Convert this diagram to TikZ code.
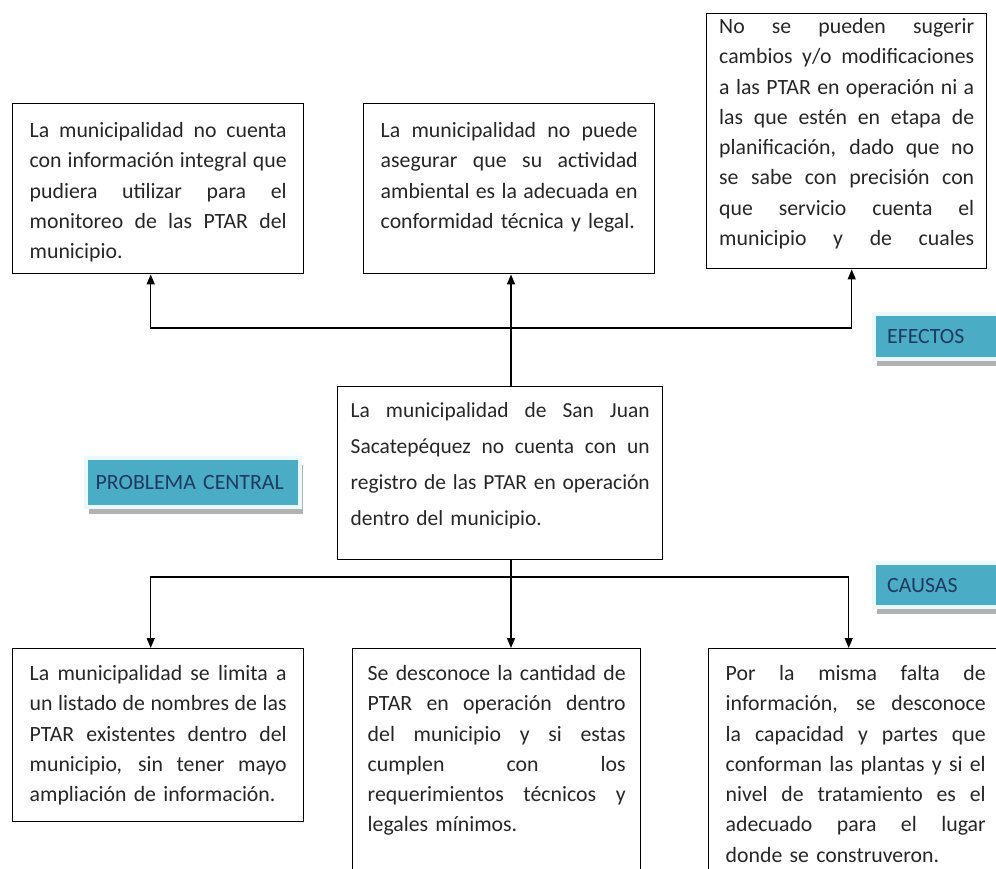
\documentclass[tikz,border=0pt]{standalone}
\usepackage{fontspec}
\setmainfont{Carlito}
\usepackage{tikz}
\usetikzlibrary{positioning, arrows.meta, shadows}

\definecolor{azulEtiqueta}{HTML}{4BACC6}
\definecolor{textoEtiqueta}{HTML}{1F3A5F}

% one justified line of a box
\newcommand{\lj}[1]{\makebox[\linewidth][s]{\spaceskip=0pt\xspaceskip=0pt #1}\\}

\begin{document}
\begin{tikzpicture}[
    caja/.style={draw=black, thick, anchor=north west, align=left, inner ysep=0pt,
        text=black!85, font=\fontsize{12.4pt}{17.2pt}\selectfont},
    etiqueta/.style={fill=azulEtiqueta, draw=cyan!8, line width=2.5pt, anchor=north west,
        align=left, inner xsep=0.26cm, text=textoEtiqueta, font=\fontsize{12.4pt}{14pt}\selectfont,
        drop shadow={shadow xshift=0.05cm, shadow yshift=-0.14cm, fill=gray!60, opacity=1}},
    linea/.style={thick},
    flecha/.style={thick, -{Triangle[length=0.2cm, width=0.16cm]}}
]

    \useasboundingbox (0,0) rectangle (19.92,-17.38);
    \clip (0,0) rectangle (19.92,-17.38);

    % === Efectos ===
    \node[caja, text width=5.14cm, inner xsep=0.34cm, text height=0.68cm, text depth=2.72cm]
        (efecto1) at (0.24,-2.06) {%
        \lj{La municipalidad no cuenta}
        \lj{con información integral que}
        \lj{pudiera utilizar para el}
        \lj{monitoreo de las PTAR del}
        municipio.};

    \node[caja, text width=5.14cm, inner xsep=0.34cm, text height=0.68cm, text depth=2.72cm]
        (efecto2) at (7.26,-2.06) {%
        \lj{La municipalidad no puede}
        \lj{asegurar que su actividad}
        \lj{ambiental es la adecuada en}
        conformidad técnica y legal.};

    \node[caja, text width=5.1cm, inner xsep=0.25cm, text height=0.4cm, text depth=4.7cm]
        (efecto3) at (14.12,-0.26) {%
        \lj{No se pueden sugerir}
        \lj{cambios y/o modificaciones}
        \lj{a las PTAR en operación ni a}
        \lj{las que estén en etapa de}
        \lj{planificación, dado que no}
        \lj{se sabe con precisión con}
        \lj{que servicio cuenta el}
        \makebox[\linewidth][s]{\spaceskip=0pt municipio y de cuales}};

    \node[etiqueta, text width=2.3cm, minimum height=0.9cm]
        (efectos) at (17.44,-6.24) {EFECTOS};

    % === Problema central ===
    \node[caja, text width=5.98cm, inner xsep=0.26cm, text height=0.62cm, text depth=2.84cm,
        font=\fontsize{12.2pt}{20.5pt}\selectfont]
        (centro) at (6.74,-7.72) {%
        \lj{La municipalidad de San Juan}
        \lj{Sacatepéquez no cuenta con un}
        \lj{registro de las PTAR en operación}
        dentro del municipio.};

    \node[etiqueta, text width=3.9cm, inner xsep=0.19cm, minimum height=0.98cm]
        (problema) at (1.68,-9.12) {\mbox{PROBLEMA CENTRAL}};

    % === Causas ===
    \node[etiqueta, text width=2.3cm, minimum height=0.88cm]
        (causas) at (17.44,-11.22) {CAUSAS};

    \node[caja, text width=5.14cm, inner xsep=0.34cm, text height=0.64cm, text depth=2.82cm]
        (causa1) at (0.24,-12.96) {%
        \lj{La municipalidad se limita a}
        \lj{un listado de nombres de las}
        \lj{PTAR existentes dentro del}
        \lj{municipio, sin tener mayo}
        ampliación de información.};

    \node[caja, text width=5.16cm, inner xsep=0.3cm, text height=0.64cm, text depth=5cm]
        (causa2) at (7.04,-12.96) {%
        \lj{Se desconoce la cantidad de}
        \lj{PTAR en operación dentro}
        \lj{del municipio y si estas}
        \lj{cumplen con los}
        \lj{requerimientos técnicos y}
        legales mínimos.};

    \node[caja, text width=5.2cm, inner xsep=0.34cm, text height=0.64cm, text depth=5cm]
        (causa3) at (14.16,-12.96) {%
        \lj{Por la misma falta de}
        \lj{información, se desconoce}
        \lj{la capacidad y partes que}
        \lj{conforman las plantas y si el}
        \lj{nivel de tratamiento es el}
        \lj{adecuado para el lugar}
        donde se construveron.};

    % === Conectores ===
    \coordinate (nudoE) at (10.22,-6.56);
    \coordinate (nudoC) at (10.22,-11.54);

    \draw[linea] (centro.north -| nudoE) -- (nudoE);
    \draw[flecha] (nudoE) -- (nudoE |- efecto2.south);
    \draw[flecha] (nudoE) -| ([xshift=-0.15cm]efecto1.south);
    \draw[flecha] (nudoE) -| ([xshift=0.1cm]efecto3.south);

    \draw[linea] (centro.south -| nudoC) -- (nudoC);
    \draw[flecha] (nudoC) -- (nudoC |- causa2.north);
    \draw[flecha] (nudoC) -| ([xshift=-0.15cm]causa1.north);
    \draw[flecha] (nudoC) -| ([xshift=-0.14cm]causa3.north);

\end{tikzpicture}
\end{document}
